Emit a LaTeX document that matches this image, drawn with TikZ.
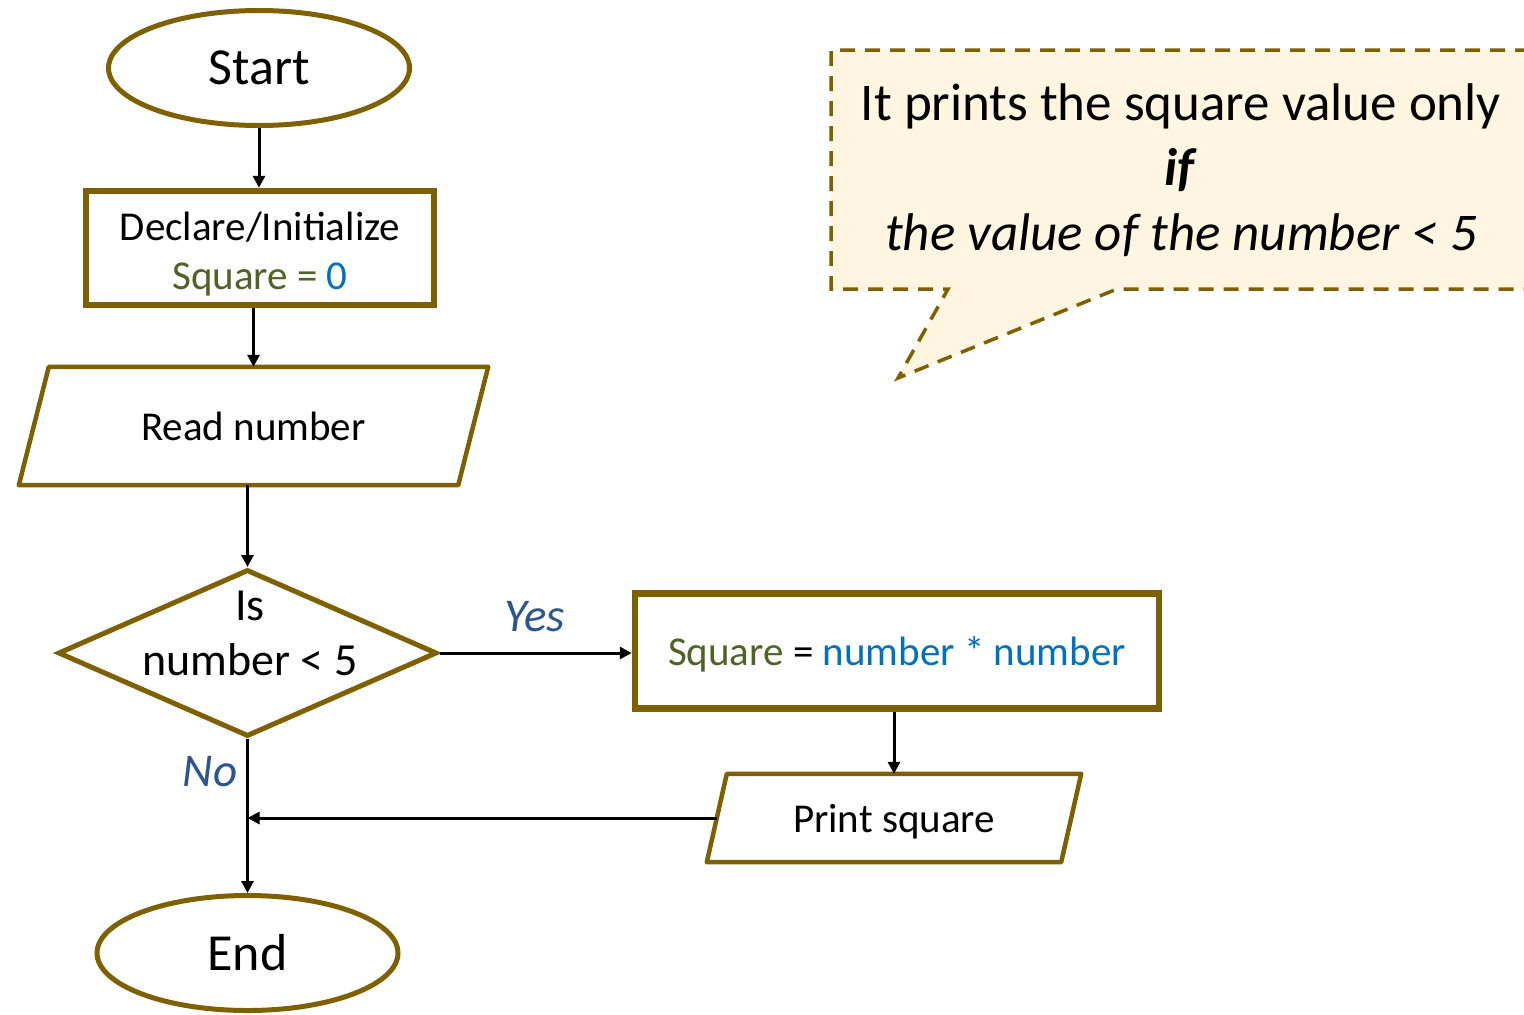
\documentclass[tikz,border=0pt]{standalone}
\usepackage{fontspec}
\setmainfont{Carlito}
\usepackage{xcolor}
\usetikzlibrary{arrows.meta,positioning,shapes.geometric}

\definecolor{olivebrd}{HTML}{7F6000}
\definecolor{notefill}{HTML}{FFF5E1}
\definecolor{vargreen}{HTML}{4F6228}
\definecolor{valblue}{HTML}{0070C0}
\definecolor{ansblue}{HTML}{2A5590}

\tikzset{
  term/.style={ellipse, draw=olivebrd, line width=5pt, inner sep=0pt,
    minimum width=301pt, minimum height=115pt, font=\fontsize{52}{60}\selectfont},
  procbox/.style={rectangle, draw=olivebrd, line width=6.5pt, inner sep=0pt,
    align=center, font=\fontsize{41}{49}\selectfont},
  iobox/.style={rectangle, inner sep=0pt, text height=38pt, text depth=9pt,
    font=\fontsize{41}{49}\selectfont},
  ioedge/.style={draw=olivebrd, line width=4.5pt, line join=round},
  decide/.style={diamond, draw=olivebrd, line width=5pt, inner sep=0pt,
    minimum width=379pt, minimum height=167pt},
  answer/.style={text=ansblue, font=\fontsize{47}{55}\selectfont\itshape},
  arr/.style={-{Triangle[length=12pt,width=12pt]}, line width=3pt},
  notebrd/.style={draw=olivebrd, line width=3.5pt, dash pattern=on 15pt off 10pt}
}

\begin{document}
\begin{tikzpicture}[x=1pt,y=-1pt]
\useasboundingbox (0,0) rectangle (1524,1015);
\clip (0,0) rectangle (1524,1015);

% flow nodes
\node[term] (st) at (259,68) {Start};
\node[procbox, minimum width=348pt, minimum height=114pt] (dc) at (260,248)
  {\rule{0pt}{40pt}Declare/Initialize\\\textcolor{vargreen}{Square =} \textcolor{valblue}{0}};
\node[iobox, minimum width=439pt, minimum height=118pt] (rd) at (253.5,426) {Read number};
\node[decide] (dm) at (247.5,653) {};
\node[align=center, font=\fontsize{46}{55}\selectfont] (dmq) at (250,633) {Is\\number < 5};
\node[procbox, minimum width=524pt, minimum height=115pt] (cp) at (897,651)
  {\rule{0pt}{36pt}\textcolor{vargreen}{Square} = \textcolor{valblue}{number * number}};
\node[iobox, minimum width=354pt, minimum height=88pt] (pr) at (894,818) {Print square};
\node[term] (en) at (247.5,953) {End};

% parallelogram outlines
\draw[ioedge] ([xshift=15pt]rd.north west) -- ([xshift=15pt]rd.north east)
  -- ([xshift=-15pt]rd.south east) -- ([xshift=-15pt]rd.south west) -- cycle;
\draw[ioedge] ([xshift=10pt]pr.north west) -- ([xshift=10pt]pr.north east)
  -- ([xshift=-10pt]pr.south east) -- ([xshift=-10pt]pr.south west) -- cycle;

% connectors
\draw[arr] (st.south) -- (st.south |- dc.north);
\draw[arr] (dc.south -| rd.north) -- (rd.north);
\draw[arr] (rd.south -| dm.north) -- (dm.north);
\draw[arr] (dm.east) -- (dm.east -| cp.west);
\draw[arr] (cp.south -| pr.north) -- (pr.north);
\draw[arr] (dm.south) -- (en.north);
\coordinate (join) at (pr.west -| dm.south);
\draw[arr] (pr.west) -- (join);

\node[answer] (yes) at (535,617) {Yes};
\node[answer] (no) at (210,772) {No};

% callout
\fill[notefill] (831,50) -- (1530,50) -- (1530,289) -- (1117,289) -- (898,378)
  -- (948,289) -- (831,289) -- cycle;
\draw[notebrd] (1530,50) -- (831,50) -- (831,289) -- (948,289) -- (898,378)
  -- (1117,289) -- (1530,289);
\node[align=center, font=\fontsize{53}{65}\selectfont] (note) at (1181,170)
  {It prints the square value only\\\textbf{\itshape if}\\\itshape the value of the number < 5};
\end{tikzpicture}
\end{document}
